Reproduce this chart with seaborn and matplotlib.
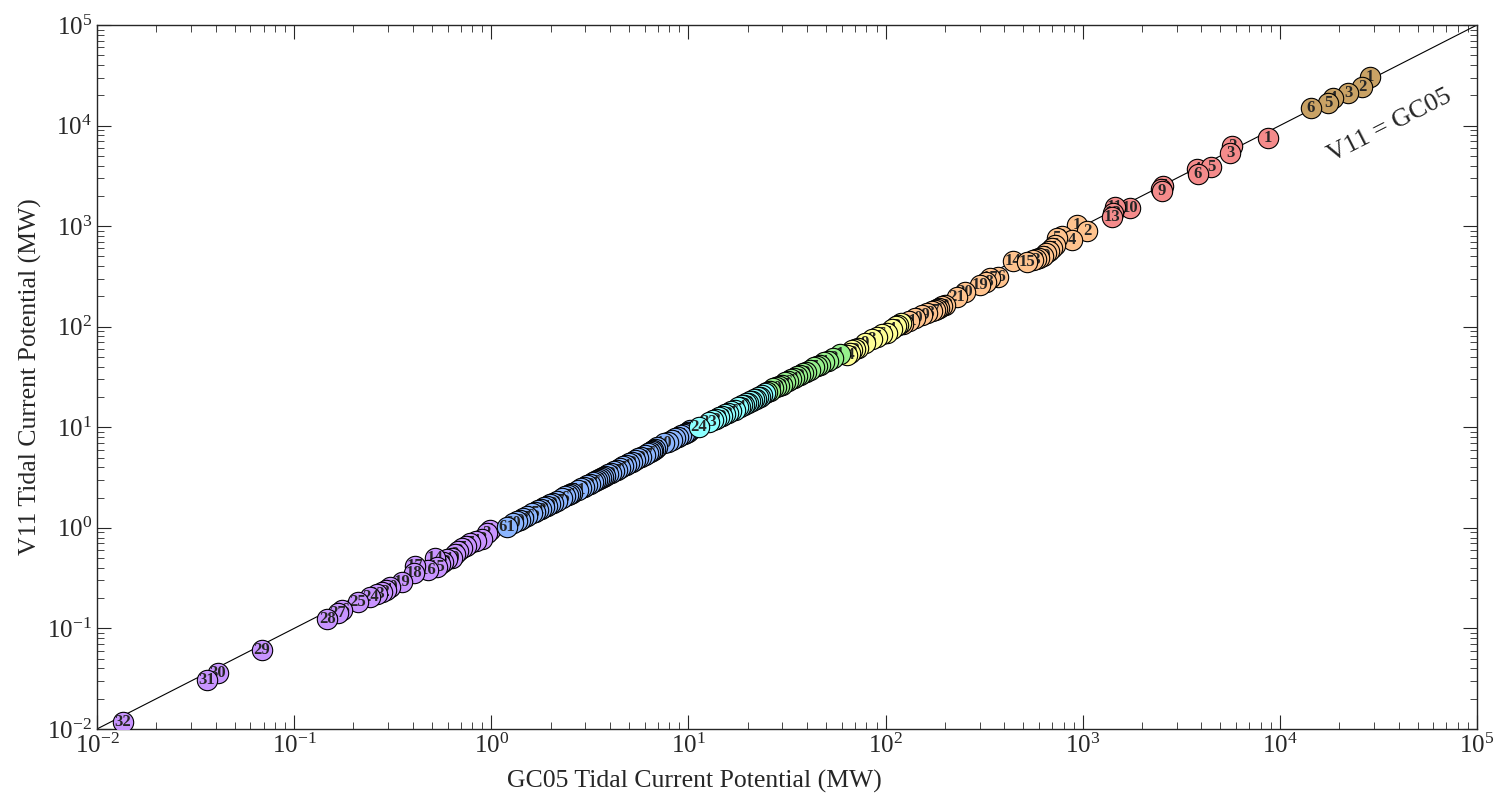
import matplotlib
matplotlib.use("Agg")
import matplotlib.pyplot as plt
import seaborn as sns

# GC05 and V11 tidal current potential (MW) per site, grouped by region.
# Within each group sites are numbered 1..N.
brown_gc05 = [28700, 26100, 22200, 18600, 17600, 14400]
brown_v11 = [30400, 24200, 21100, 18800, 16800, 15000]

red_gc05 = [8710, 5720, 5590, 3800, 4480, 3845, 2550, 2495, 2520, 1738, 1459, 1425, 1408]
red_v11 = [7520, 6200, 5340, 3700, 3870, 3290, 2506, 2335, 2235, 1515, 1550, 1350, 1233]

orange_gc05 = [935, 1051, 785, 882, 740, 723, 698, 674, 651, 629, 600, 579, 559, 443, 522,
               372, 339, 323, 301, 253, 230, 200, 193, 187, 182, 178, 172, 162, 153, 141, 131, 123]
orange_v11 = [1026, 895, 802, 728, 762, 649, 606, 566, 541, 505, 482, 471, 461, 450, 440,
              312, 305, 279, 260, 221, 198, 164, 161, 154, 150, 147, 143, 137, 131, 122, 114, 106]

yellow_gc05 = [120, 116, 113, 108, 102, 96, 90.5, 85.4, 78.7, 72.5, 70.0, 67.6, 66.0, 63.8]
yellow_v11 = [109, 103, 101, 95, 87, 84, 79, 75, 69, 62, 60, 58, 55, 52]

green_gc05 = [58.7, 54.1, 51.1, 48.7, 46.5, 44.9, 43.4, 41.4, 39.5, 38.1, 36.8, 35.6, 34.3,
              33.1, 32.0, 30.9, 29.8, 28.8, 27.8, 26.9, 25.9, 25.0]
green_v11 = [53.5, 48.9, 46.0, 44.2, 42.0, 40.3, 39.4, 37.0, 35.5, 34.6, 33.0, 32.3, 30.8,
             29.9, 28.6, 27.9, 26.6, 25.9, 24.9, 24.3, 23.2, 22.6]

cyan_gc05 = [24.5, 23.6, 23.1, 22.5, 22.0, 21.5, 21.0, 20.5, 20.1, 19.6, 19.1, 18.7, 18.3,
             17.9, 17.2, 16.5, 15.9, 15.3, 14.8, 14.3, 13.8, 13.3, 12.7, 11.3]
cyan_v11 = [21.8, 21.0, 20.2, 19.9, 19.3, 19.0, 18.4, 18.1, 17.6, 17.3, 16.8, 16.5, 16.0,
            15.8, 14.9, 14.6, 13.9, 13.5, 12.9, 12.6, 12.1, 11.8, 11.2, 10.1]

blue_gc05 = [10.2, 9.95, 9.72, 9.49, 9.17, 8.85, 8.55, 8.25, 7.88, 7.52, 6.95, 6.80, 6.65,
             6.50, 6.38, 6.24, 6.02, 5.74, 5.55, 5.36, 5.17, 4.99, 4.82, 4.66, 4.50, 4.34,
             4.19, 4.05, 3.91, 3.77, 3.69, 3.60, 3.52, 3.44, 3.36, 3.28, 3.17, 3.06, 2.95,
             2.85, 2.75, 2.58, 2.52, 2.45, 2.36, 2.28, 2.15, 2.06, 1.99, 1.92, 1.85, 1.79,
             1.73, 1.67, 1.61, 1.52, 1.45, 1.40, 1.35, 1.29, 1.20]
blue_v11 = [9.3, 9.0, 8.8, 8.5, 8.3, 8.0, 7.8, 7.5, 7.2, 6.98, 6.3, 6.15, 6.0,
            5.8, 5.7, 5.5, 5.3, 5.1, 4.9, 4.7, 4.55, 4.4, 4.25, 4.1, 3.95, 3.8,
            3.7, 3.55, 3.45, 3.3, 3.2, 3.1, 3.05, 2.98, 2.92, 2.85, 2.75, 2.65, 2.56,
            2.47, 2.38, 2.22, 2.17, 2.12, 2.05, 1.98, 1.87, 1.78, 1.72, 1.66, 1.60, 1.55,
            1.50, 1.44, 1.39, 1.32, 1.25, 1.21, 1.16, 1.11, 1.03]

purple_gc05 = [0.99, 0.95, 0.90, 0.84, 0.78, 0.745, 0.71, 0.68, 0.655, 0.633, 0.595, 0.57,
               0.55, 0.52, 0.53, 0.478, 0.41, 0.405, 0.352, 0.306, 0.292, 0.279, 0.263,
               0.243, 0.211, 0.175, 0.167, 0.147, 0.0687, 0.0411, 0.0361, 0.0135]
purple_v11 = [0.95, 0.89, 0.78, 0.74, 0.71, 0.66, 0.63, 0.59, 0.55, 0.50, 0.49, 0.46,
              0.44, 0.50, 0.41, 0.38, 0.42, 0.355, 0.290, 0.258, 0.241, 0.230, 0.220,
              0.205, 0.183, 0.152, 0.142, 0.124, 0.061, 0.0361, 0.0307, 0.0118]

groups = [
    ("#C9A265", brown_gc05, brown_v11),
    ("#F48B8B", red_gc05, red_v11),
    ("#FFC38E", orange_gc05, orange_v11),
    ("#FFFF96", yellow_gc05, yellow_v11),
    ("#96F08C", green_gc05, green_v11),
    ("#C894FF", purple_gc05, purple_v11),
    ("#8CB6FF", blue_gc05, blue_v11),
    ("#8CFFFF", cyan_gc05, cyan_v11),
]

sns.set_style("ticks")
plt.rcParams["font.family"] = ["Liberation Serif", "DejaVu Serif"]
plt.rcParams["mathtext.fontset"] = "stix"

fig = plt.figure(figsize=(15.01, 8.01), dpi=100)
ax = fig.add_axes([0.0646, 0.0899, 0.9194, 0.8789])
ax.set_xscale("log")
ax.set_yscale("log")
ax.set_xlim(1e-2, 1e5)
ax.set_ylim(1e-2, 1e5)

# one-to-one reference line
ax.plot([1e-2, 1e5], [1e-2, 1e5], color="black", lw=0.8, zorder=1)

# each site is drawn with its number right after it, so later sites overlap earlier ones
z = 2
for color, gx, gy in groups:
    for i, (xv, yv) in enumerate(zip(gx, gy)):
        sns.scatterplot(x=[xv], y=[yv], ax=ax, s=215, color=color,
                        edgecolor="black", linewidth=0.8, zorder=z, legend=False)
        ax.text(xv, yv, str(i + 1), ha="center", va="center", fontsize=12,
                fontweight="bold", zorder=z + 1)
        z += 2

ax.set_xlim(1e-2, 1e5)
ax.set_ylim(1e-2, 1e5)

ax.text(3.6e4, 1.0e4, "V11 = GC05", rotation=27, ha="center", va="center",
        fontsize=19, rotation_mode="anchor")

ax.set_xlabel("GC05 Tidal Current Potential (MW)", fontsize=18.5)
ax.set_ylabel("V11 Tidal Current Potential (MW)", fontsize=18.5)
ax.xaxis.set_label_coords(0.433, -0.058)
ax.yaxis.set_label_coords(-0.040, 0.5)

ax.tick_params(which="both", direction="in", top=True, right=True, labelsize=18)
ax.tick_params(which="major", length=10, width=0.8)
ax.tick_params(which="minor", length=5, width=0.6)
for sp in ax.spines.values():
    sp.set_linewidth(1.0)

fig.savefig("out.png", dpi=100)
